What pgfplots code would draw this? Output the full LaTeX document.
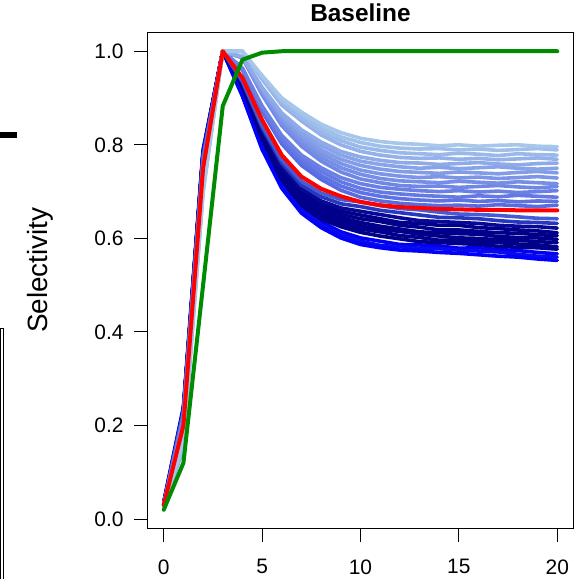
\documentclass[border=0pt]{standalone}
\usepackage{pgfplots}
\pgfplotsset{compat=1.18}
\usepackage{fontspec}
\setmainfont{Liberation Sans}
\definecolor{c1}{RGB}{166,198,234}
\definecolor{c2}{RGB}{160,191,234}
\definecolor{c3}{RGB}{154,184,233}
\definecolor{c4}{RGB}{148,177,233}
\definecolor{c5}{RGB}{142,170,232}
\definecolor{c6}{RGB}{136,163,232}
\definecolor{c7}{RGB}{130,156,231}
\definecolor{c8}{RGB}{124,149,230}
\definecolor{c9}{RGB}{118,142,229}
\definecolor{c10}{RGB}{112,135,229}
\definecolor{c11}{RGB}{106,128,228}
\definecolor{c12}{RGB}{100,121,227}
\definecolor{c13}{RGB}{94,114,226}
\definecolor{c14}{RGB}{88,108,226}
\definecolor{n1}{RGB}{70,92,215}
\definecolor{n2}{RGB}{40,55,190}
\definecolor{n3}{RGB}{8,8,150}
\definecolor{navy}{RGB}{0,0,139}
\definecolor{bb1}{RGB}{0,0,245}
\definecolor{bb2}{RGB}{10,10,235}
\definecolor{bb3}{RGB}{0,0,255}
\definecolor{rgreen}{RGB}{0,140,0}
\begin{document}
\begin{tikzpicture}
\begin{axis}[
  at={(0,0)}, anchor=south west,
  scale only axis, width=425bp, height=495bp,
  xmin=-0.8, xmax=20.8, ymin=-0.019, ymax=1.039,
  xtick={0,5,10,15,20}, ytick={0,0.2,0.4,0.6,0.8,1},
  xtick pos=bottom, ytick pos=left,
  tick align=outside, major tick length=14bp,
  tick style={black, line width=1bp},
  axis line style={black, line width=1bp},
  /pgf/number format/assume math mode=true,
  ticklabel style={font=\fontsize{21}{21}\selectfont},
  xticklabel style={yshift=-14bp},
  yticklabel style={xshift=-7bp, /pgf/number format/fixed, /pgf/number format/fixed zerofill, /pgf/number format/precision=1},
  title={Baseline},
  title style={font=\fontsize{24.5}{24.5}\selectfont\bfseries, at={(axis description cs:0.5,1)}, anchor=base, yshift=5.5bp},
  ylabel={Selectivity},
  ylabel style={font=\fontsize{28}{28}\selectfont, at={(axis description cs:-0.254,0.521)}, anchor=center},
  every axis plot/.append style={line join=round, line cap=round},
]
% bright blue (bottom)
\addplot[bb1, line width=3.6bp] coordinates {(0,0.035)(1,0.235)(2,0.785)(3,1)(4,0.907)(5,0.796)(6,0.716)(7,0.665)(8,0.635)(9,0.614)(10,0.601)(11,0.594)(12,0.587)(13,0.586)(14,0.584)(15,0.579)(16,0.580)(17,0.576)(18,0.574)(19,0.570)(20,0.567)};
\addplot[bb2, line width=3.6bp] coordinates {(0,0.035)(1,0.235)(2,0.785)(3,1)(4,0.905)(5,0.793)(6,0.711)(7,0.660)(8,0.629)(9,0.608)(10,0.594)(11,0.585)(12,0.582)(13,0.579)(14,0.578)(15,0.575)(16,0.573)(17,0.571)(18,0.566)(19,0.562)(20,0.560)};
\addplot[bb3, line width=3.6bp] coordinates {(0,0.036)(1,0.24)(2,0.79)(3,1)(4,0.904)(5,0.790)(6,0.707)(7,0.654)(8,0.623)(9,0.601)(10,0.587)(11,0.580)(12,0.575)(13,0.573)(14,0.570)(15,0.568)(16,0.565)(17,0.562)(18,0.560)(19,0.556)(20,0.553)};
% navy band
\addplot[navy, line width=3.6bp] coordinates {(0,0.031)(1,0.23)(2,0.78)(3,1)(4,0.925)(5,0.812)(6,0.725)(7,0.671)(8,0.641)(9,0.625)(10,0.613)(11,0.605)(12,0.599)(13,0.593)(14,0.591)(15,0.589)(16,0.587)(17,0.583)(18,0.581)(19,0.580)(20,0.577)};
\addplot[navy, line width=3.6bp] coordinates {(0,0.030)(1,0.23)(2,0.78)(3,1)(4,0.926)(5,0.816)(6,0.729)(7,0.676)(8,0.647)(9,0.631)(10,0.620)(11,0.614)(12,0.606)(13,0.602)(14,0.596)(15,0.596)(16,0.593)(17,0.591)(18,0.588)(19,0.586)(20,0.582)};
\addplot[navy, line width=3.6bp] coordinates {(0,0.030)(1,0.23)(2,0.78)(3,1)(4,0.927)(5,0.819)(6,0.734)(7,0.682)(8,0.653)(9,0.637)(10,0.627)(11,0.619)(12,0.615)(13,0.609)(14,0.605)(15,0.601)(16,0.600)(17,0.597)(18,0.596)(19,0.593)(20,0.591)};
\addplot[navy, line width=3.6bp] coordinates {(0,0.031)(1,0.23)(2,0.78)(3,1)(4,0.929)(5,0.822)(6,0.739)(7,0.687)(8,0.659)(9,0.644)(10,0.634)(11,0.626)(12,0.620)(13,0.614)(14,0.612)(15,0.610)(16,0.609)(17,0.604)(18,0.602)(19,0.601)(20,0.598)};
\addplot[navy, line width=3.6bp] coordinates {(0,0.030)(1,0.23)(2,0.78)(3,1)(4,0.930)(5,0.825)(6,0.744)(7,0.693)(8,0.666)(9,0.651)(10,0.642)(11,0.636)(12,0.628)(13,0.624)(14,0.618)(15,0.618)(16,0.615)(17,0.612)(18,0.611)(19,0.608)(20,0.606)};
\addplot[navy, line width=3.6bp] coordinates {(0,0.030)(1,0.23)(2,0.78)(3,1)(4,0.932)(5,0.829)(6,0.749)(7,0.700)(8,0.673)(9,0.658)(10,0.650)(11,0.642)(12,0.634)(13,0.632)(14,0.628)(15,0.628)(16,0.623)(17,0.621)(18,0.618)(19,0.616)(20,0.612)};
\addplot[n3, line width=3.6bp] coordinates {(0,0.032)(1,0.23)(2,0.78)(3,1)(4,0.933)(5,0.833)(6,0.754)(7,0.706)(8,0.680)(9,0.665)(10,0.658)(11,0.651)(12,0.644)(13,0.638)(14,0.636)(15,0.634)(16,0.632)(17,0.628)(18,0.626)(19,0.625)(20,0.622)};
\addplot[n2, line width=3.6bp] coordinates {(0,0.030)(1,0.23)(2,0.78)(3,1)(4,0.935)(5,0.837)(6,0.761)(7,0.714)(8,0.689)(9,0.674)(10,0.668)(11,0.660)(12,0.655)(13,0.650)(14,0.645)(15,0.644)(16,0.642)(17,0.638)(18,0.635)(19,0.634)(20,0.632)};
\addplot[n1, line width=3.6bp] coordinates {(0,0.030)(1,0.23)(2,0.77)(3,1)(4,0.937)(5,0.842)(6,0.768)(7,0.722)(8,0.697)(9,0.683)(10,0.678)(11,0.670)(12,0.664)(13,0.661)(14,0.656)(15,0.652)(16,0.651)(17,0.649)(18,0.646)(19,0.643)(20,0.642)};
% light group
\addplot[c14, line width=3.6bp] coordinates {(0,0.030)(1,0.22)(2,0.77)(3,1)(4,0.960)(5,0.871)(6,0.802)(7,0.756)(8,0.726)(9,0.703)(10,0.688)(11,0.680)(12,0.675)(13,0.672)(14,0.670)(15,0.671)(16,0.669)(17,0.672)(18,0.670)(19,0.668)(20,0.671)};
\addplot[c13, line width=3.6bp] coordinates {(0,0.030)(1,0.22)(2,0.76)(3,1)(4,0.962)(5,0.875)(6,0.808)(7,0.763)(8,0.734)(9,0.712)(10,0.698)(11,0.690)(12,0.685)(13,0.682)(14,0.680)(15,0.682)(16,0.679)(17,0.681)(18,0.678)(19,0.680)(20,0.679)};
\addplot[c12, line width=3.6bp] coordinates {(0,0.030)(1,0.22)(2,0.76)(3,1)(4,0.963)(5,0.879)(6,0.814)(7,0.771)(8,0.743)(9,0.721)(10,0.707)(11,0.699)(12,0.695)(13,0.692)(14,0.690)(15,0.688)(16,0.691)(17,0.689)(18,0.692)(19,0.690)(20,0.688)};
\addplot[c11, line width=3.6bp] coordinates {(0,0.030)(1,0.21)(2,0.75)(3,1)(4,0.964)(5,0.883)(6,0.820)(7,0.778)(8,0.751)(9,0.730)(10,0.717)(11,0.709)(12,0.705)(13,0.702)(14,0.700)(15,0.702)(16,0.699)(17,0.701)(18,0.698)(19,0.700)(20,0.702)};
\addplot[c10, line width=3.6bp] coordinates {(0,0.030)(1,0.21)(2,0.75)(3,1)(4,0.986)(5,0.907)(6,0.841)(7,0.797)(8,0.765)(9,0.742)(10,0.727)(11,0.719)(12,0.713)(13,0.711)(14,0.712)(15,0.709)(16,0.711)(17,0.713)(18,0.710)(19,0.708)(20,0.711)};
\addplot[c9, line width=3.6bp] coordinates {(0,0.030)(1,0.20)(2,0.74)(3,1)(4,0.986)(5,0.910)(6,0.846)(7,0.804)(8,0.773)(9,0.751)(10,0.737)(11,0.728)(12,0.723)(13,0.721)(14,0.719)(15,0.722)(16,0.720)(17,0.718)(18,0.721)(19,0.719)(20,0.717)};
\addplot[c8, line width=3.6bp] coordinates {(0,0.030)(1,0.19)(2,0.73)(3,1)(4,0.987)(5,0.914)(6,0.852)(7,0.811)(8,0.781)(9,0.760)(10,0.746)(11,0.738)(12,0.733)(13,0.730)(14,0.732)(15,0.729)(16,0.731)(17,0.728)(18,0.730)(19,0.732)(20,0.729)};
\addplot[c7, line width=3.6bp] coordinates {(0,0.032)(1,0.20)(2,0.74)(3,1)(4,0.987)(5,0.917)(6,0.857)(7,0.818)(8,0.789)(9,0.769)(10,0.756)(11,0.748)(12,0.743)(13,0.741)(14,0.739)(15,0.742)(16,0.740)(17,0.738)(18,0.741)(19,0.743)(20,0.740)};
\addplot[c6, line width=3.6bp] coordinates {(0,0.030)(1,0.18)(2,0.72)(3,1)(4,0.988)(5,0.920)(6,0.863)(7,0.825)(8,0.798)(9,0.778)(10,0.765)(11,0.758)(12,0.753)(13,0.750)(14,0.752)(15,0.749)(16,0.751)(17,0.753)(18,0.750)(19,0.748)(20,0.750)};
\addplot[c5, line width=3.6bp] coordinates {(0,0.030)(1,0.19)(2,0.73)(3,1)(4,0.988)(5,0.923)(6,0.868)(7,0.832)(8,0.806)(9,0.786)(10,0.774)(11,0.767)(12,0.762)(13,0.761)(14,0.758)(15,0.760)(16,0.762)(17,0.759)(18,0.757)(19,0.760)(20,0.761)};
\addplot[c4, line width=3.6bp] coordinates {(0,0.028)(1,0.15)(2,0.70)(3,1)(4,1.000)(5,0.940)(6,0.885)(7,0.851)(8,0.821)(9,0.800)(10,0.786)(11,0.778)(12,0.773)(13,0.771)(14,0.772)(15,0.769)(16,0.771)(17,0.768)(18,0.770)(19,0.772)(20,0.769)};
\addplot[c3, line width=3.6bp] coordinates {(0,0.030)(1,0.18)(2,0.72)(3,1)(4,1.000)(5,0.943)(6,0.890)(7,0.857)(8,0.828)(9,0.809)(10,0.795)(11,0.788)(12,0.783)(13,0.781)(14,0.779)(15,0.782)(16,0.780)(17,0.777)(18,0.781)(19,0.779)(20,0.778)};
\addplot[c2, line width=3.6bp] coordinates {(0,0.030)(1,0.16)(2,0.71)(3,1)(4,1.000)(5,0.945)(6,0.895)(7,0.864)(8,0.836)(9,0.817)(10,0.805)(11,0.797)(12,0.793)(13,0.791)(14,0.792)(15,0.789)(16,0.791)(17,0.788)(18,0.790)(19,0.792)(20,0.789)};
\addplot[c1, line width=3.6bp] coordinates {(0,0.030)(1,0.17)(2,0.70)(3,1)(4,1.000)(5,0.948)(6,0.900)(7,0.870)(8,0.844)(9,0.826)(10,0.814)(11,0.807)(12,0.803)(13,0.801)(14,0.798)(15,0.800)(16,0.797)(17,0.799)(18,0.800)(19,0.797)(20,0.796)};
% red
\addplot[red, line width=4bp] coordinates {(0,0.030)(1,0.20)(2,0.75)(3,1)(4,0.943)(5,0.853)(6,0.778)(7,0.732)(8,0.706)(9,0.690)(10,0.678)(11,0.671)(12,0.667)(13,0.665)(14,0.663)(15,0.662)(16,0.661)(17,0.661)(18,0.660)(19,0.660)(20,0.660)};
% green
\addplot[rgreen, line width=4bp] coordinates {(0,0.020)(1,0.120)(2,0.50)(3,0.883)(4,0.982)(5,0.997)(6,1)(7,1)(8,1)(9,1)(10,1)(11,1)(12,1)(13,1)(14,1)(15,1)(16,1)(17,1)(18,1)(19,1)(20,1)};
\end{axis}
% fragments of the neighbouring panel at the left edge
\draw[black, line width=6.5bp] (-148bp,393bp) -- (-131bp,393bp);
\draw[black, line width=0.9bp] (-147.5bp,-60bp) -- (-147.5bp,200bp) -- (-144.5bp,200bp) -- (-144.5bp,-60bp);
\pgfresetboundingbox
\useasboundingbox (-148bp,-51bp) rectangle (428bp,528bp);
\end{tikzpicture}
\end{document}
